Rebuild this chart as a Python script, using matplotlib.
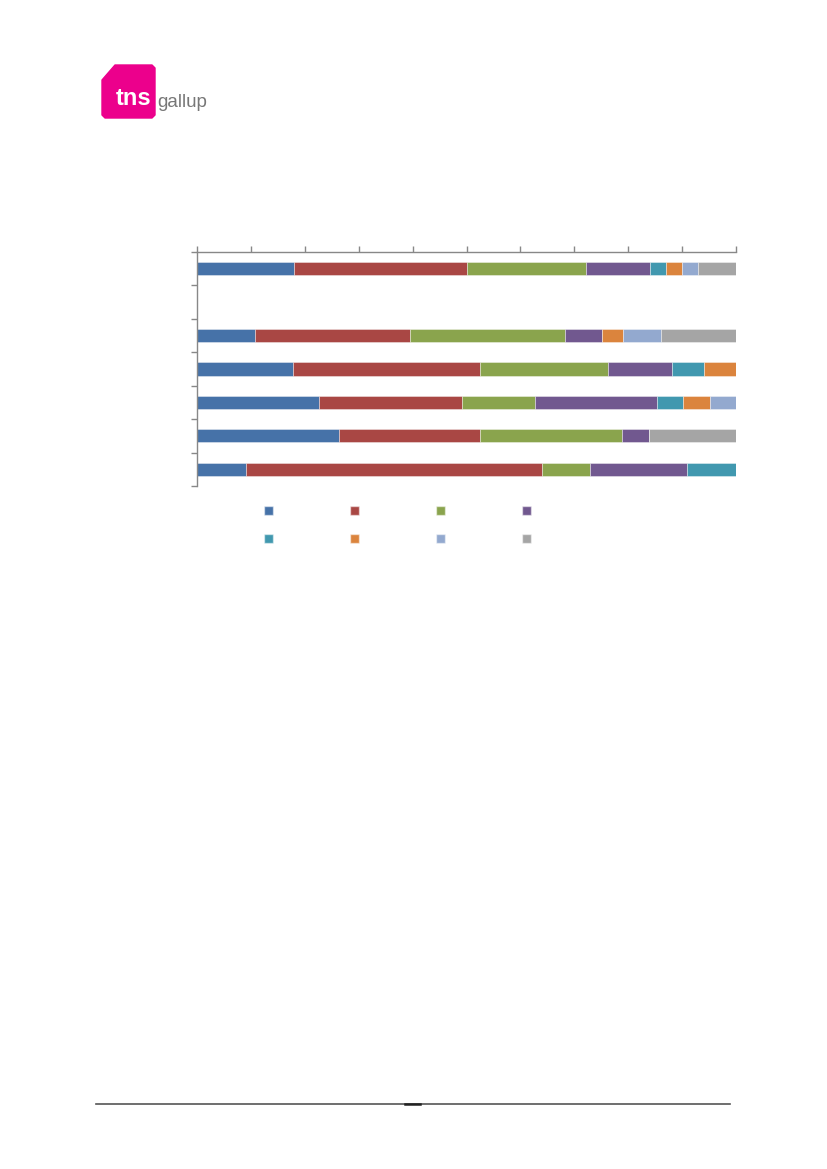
import matplotlib
matplotlib.use("Agg")
import matplotlib.pyplot as plt
from matplotlib.patches import Patch, Polygon
from matplotlib.lines import Line2D
import numpy as np

# rows top to bottom (second slot is empty)
rows = ["r1", "", "r2", "r3", "r4", "r5", "r6"]
s1 = [18.0, 0, 10.8, 17.9, 22.6, 26.3, 9.0]
s2 = [32.0, 0, 28.7, 34.6, 26.5, 26.2, 55.0]
s3 = [22.1, 0, 28.8, 23.7, 13.7, 26.3, 9.0]
s4 = [11.9, 0, 6.9, 11.9, 22.5, 5.0, 18.0]
s5 = [3.0, 0, 0.0, 6.0, 4.9, 0.0, 9.0]
s6 = [3.0, 0, 3.9, 5.9, 5.0, 0.0, 0.0]
s7 = [3.0, 0, 6.9, 0.0, 4.8, 0.0, 0.0]
s8 = [7.0, 0, 14.0, 0.0, 0.0, 16.2, 0.0]
series = [s1, s2, s3, s4, s5, s6, s7, s8]
colors = ["#4672A8", "#A94744", "#8AA44D", "#71588F",
          "#4198AF", "#DB843D", "#93A9CF", "#A5A5A5"]
xticks = list(range(0, 101, 10))

W, H = 827, 1169
fig = plt.figure(figsize=(W / 100, H / 100), dpi=100)

ax = fig.add_axes([197 / W, 1 - 486 / H, (736 - 197) / W, (486 - 252) / H])
y = np.arange(len(rows))
left = np.zeros(len(rows))
for vals, c in zip(series, colors):
    v = np.array(vals)
    ax.barh(y, v, left=left, height=0.39, color=c,
            edgecolor=(1, 1, 1, 0.45), linewidth=0.6)
    left += v

ax.set_xlim(0, 100)
ax.set_ylim(len(rows) - 0.5, -0.5)
ax.xaxis.tick_top()
ax.set_xticks(xticks)
ax.set_xticklabels([])
ax.set_yticks(np.arange(-0.5, len(rows), 1.0))
ax.set_yticklabels([])
for s in ["right", "bottom"]:
    ax.spines[s].set_visible(False)
for s in ["top", "left"]:
    ax.spines[s].set_color("#888888")
    ax.spines[s].set_linewidth(1.0)
ax.tick_params(axis="both", direction="out", length=4, color="#888888", width=1)

# legend (no labels), row-major order in 4 columns
order = [0, 4, 1, 5, 2, 6, 3, 7]
handles = [Patch(facecolor=colors[i], edgecolor=(1, 1, 1, 0.5)) for i in order]
fig.legend(handles, [""] * 8, ncol=4, loc="center",
           bbox_to_anchor=(397.5 / W, 1 - 525.5 / H),
           frameon=False, handlelength=0.65, handleheight=0.65,
           columnspacing=5.55, handletextpad=0.0, labelspacing=1.0)

# logo
pink = "#EC008C"
pts = [(102, 80), (102, 115), (105, 118), (152, 118), (155, 115),
       (155, 68), (152, 65), (115, 65)]
poly = Polygon([(px / W, 1 - py / H) for px, py in pts], closed=True,
               transform=fig.transFigure, facecolor=pink, edgecolor=pink,
               linewidth=1, joinstyle="round")
fig.add_artist(poly)
fig.text(116 / W, 1 - 105 / H, "tns", color="white", fontsize=17,
         fontweight="bold", family="Liberation Sans", ha="left", va="baseline")
fig.text(157 / W, 1 - 107 / H, "gallup", color="#777777", fontsize=13.5,
         family="Liberation Sans", ha="left", va="baseline")

# footer line
fig.add_artist(Line2D([96 / W, 730 / W], [1 - 1104 / H, 1 - 1104 / H],
                      transform=fig.transFigure, color="#555555", linewidth=1.2))
fig.add_artist(Line2D([405 / W, 420 / W], [1 - 1104 / H, 1 - 1104 / H],
                      transform=fig.transFigure, color="#222222", linewidth=1.8))

fig.savefig("out.png", dpi=100)
